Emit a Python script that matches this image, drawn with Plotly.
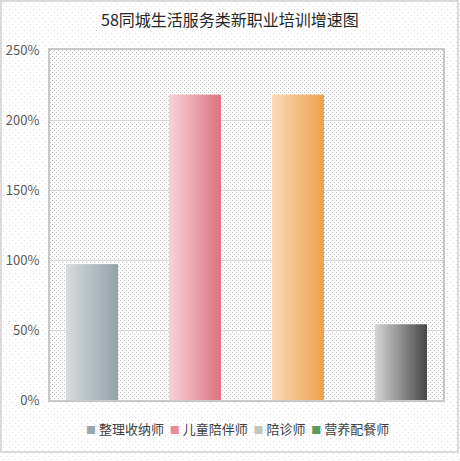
"""
58同城生活服务类新职业培训增速图 -- clustered columns with horizontal gradient fills.
Plotly bars have no gradient fill, so each column is drawn as thin strips.
"""
import plotly.graph_objects as go

# ---- data ----
SERIES = ["整理收纳师", "儿童陪伴师", "陪诊师", "营养配餐师"]
GROWTH = [0.97, 2.18, 2.18, 0.54]
Y_TICKS = [0, 0.5, 1.0, 1.5, 2.0, 2.5]

# gradient (left colour, right colour) per column
BAR_GRAD = [
    ("#d6dadc", "#95a3aa"),
    ("#f8d0d5", "#dd7580"),
    ("#fadab4", "#eea24e"),
    ("#d2d2d2", "#4a4a4a"),
]
# the legend swatches in the original do not follow the bars
LEGEND_COLORS = ["#9aa8ae", "#e88a93", "#c3c4bc", "#5e9960"]

N_STRIPS = 20
BAR_W = 0.505
FONT = "Noto Sans CJK SC"


def hex_to_rgb(h):
    h = h.lstrip("#")
    return tuple(int(h[i:i + 2], 16) for i in (0, 2, 4))


def mix(c0, c1, t):
    a, b = hex_to_rgb(c0), hex_to_rgb(c1)
    r, g, bl = (round(a[i] + (b[i] - a[i]) * t) for i in range(3))
    return f"rgb({r},{g},{bl})"


fig = go.Figure()

step = BAR_W / N_STRIPS
for k in range(N_STRIPS):
    t = k / (N_STRIPS - 1)
    left = -BAR_W / 2 + k * step
    w = min(step * 1.6, BAR_W / 2 - left)  # slight overlap hides seams
    fig.add_trace(go.Bar(
        x=SERIES, y=GROWTH,
        offset=left, width=w,
        marker=dict(color=[mix(c0, c1, t) for c0, c1 in BAR_GRAD], line=dict(width=0)),
        showlegend=False,
        hovertemplate="%{x}: %{y:.0%}<extra></extra>",
    ))

# legend row, written as one text line (the native legend can't pack this tight)
legend_text = "&nbsp;&nbsp;".join(
    f"<span style='color:{c};font-size:10px'>■</span> {name}"
    for name, c in zip(SERIES, LEGEND_COLORS)
)

# dotted background pattern as inline svg
dots_inner = (
    "<svg xmlns='http://www.w3.org/2000/svg' width='393' height='350'>"
    "<defs><pattern id='p' width='4' height='4' patternUnits='userSpaceOnUse'>"
    "<rect width='4' height='4' fill='white'/>"
    "<rect x='0' y='0' width='1' height='1' fill='%23bdbdbd'/>"
    "<rect x='2' y='2' width='1' height='1' fill='%23bdbdbd'/>"
    "</pattern></defs><rect width='393' height='350' fill='url(%23p)'/></svg>"
)
dots_outer = (
    "<svg xmlns='http://www.w3.org/2000/svg' width='460' height='461'>"
    "<defs><pattern id='q' width='6' height='6' patternUnits='userSpaceOnUse'>"
    "<rect width='6' height='6' fill='white'/>"
    "<rect x='0' y='0' width='1' height='1' fill='%23e2e2e2'/>"
    "<rect x='3' y='3' width='1' height='1' fill='%23e2e2e2'/>"
    "</pattern></defs><rect width='460' height='461' fill='url(%23q)'/></svg>"
)

fig.update_layout(
    width=460, height=461,
    margin=dict(l=50, r=17, t=50, b=61, autoexpand=False),
    barmode="overlay",
    showlegend=False,
    paper_bgcolor="white",
    plot_bgcolor="rgba(0,0,0,0)",
    font=dict(family=FONT, size=13, color="#404040"),
    title=dict(text="58同城生活服务类新职业培训增速图",
               x=0.5, xref="container", xanchor="center",
               y=1 - 20 / 461, yref="container", yanchor="middle",
               font=dict(size=16, color="#262626")),
    annotations=[
        dict(text=legend_text, xref="paper", yref="paper",
             x=(84 - 50) / 393, xanchor="left", y=-28 / 350, yanchor="middle",
             showarrow=False, font=dict(size=13, color="#404040")),
    ],
    images=[
        dict(source="data:image/svg+xml;utf8," + dots_outer, xref="paper", yref="paper",
             x=-50 / 393, y=1 + 50 / 350, sizex=460 / 393, sizey=461 / 350,
             xanchor="left", yanchor="top", sizing="stretch", layer="below"),
        dict(source="data:image/svg+xml;utf8," + dots_inner, xref="paper", yref="paper",
             x=0, y=1, sizex=1, sizey=1, xanchor="left", yanchor="top",
             sizing="stretch", layer="below"),
    ],
    shapes=[
        # outer chart border
        dict(type="rect", xref="paper", yref="paper",
             x0=-49 / 393, x1=1 + 15 / 393, y0=-52 / 350, y1=1 + 49 / 350,
             line=dict(color="#d0d0d0", width=1.5), fillcolor="rgba(0,0,0,0)", layer="below"),
    ],
)

fig.update_xaxes(range=[-0.408, 3.408], showticklabels=False, ticks="",
                 showgrid=False, showline=True, mirror=True,
                 linecolor="#c8c8c8", linewidth=2, zeroline=False, automargin=False)
fig.update_yaxes(range=[0, 2.5], tickvals=Y_TICKS, tickformat=".0%",
                 showgrid=True, gridcolor="#d6d6d6", gridwidth=1,
                 showline=True, mirror=True, linecolor="#c8c8c8", linewidth=2,
                 zeroline=False, ticks="", ticklabelstandoff=6, automargin=False,
                 tickfont=dict(size=13, color="#595959"))

# browsers add an 8px body margin; drop it so the chart sits at the window origin
fig.write_html("out.html", config={"displayModeBar": False},
               post_script="document.body.style.margin='0';")
